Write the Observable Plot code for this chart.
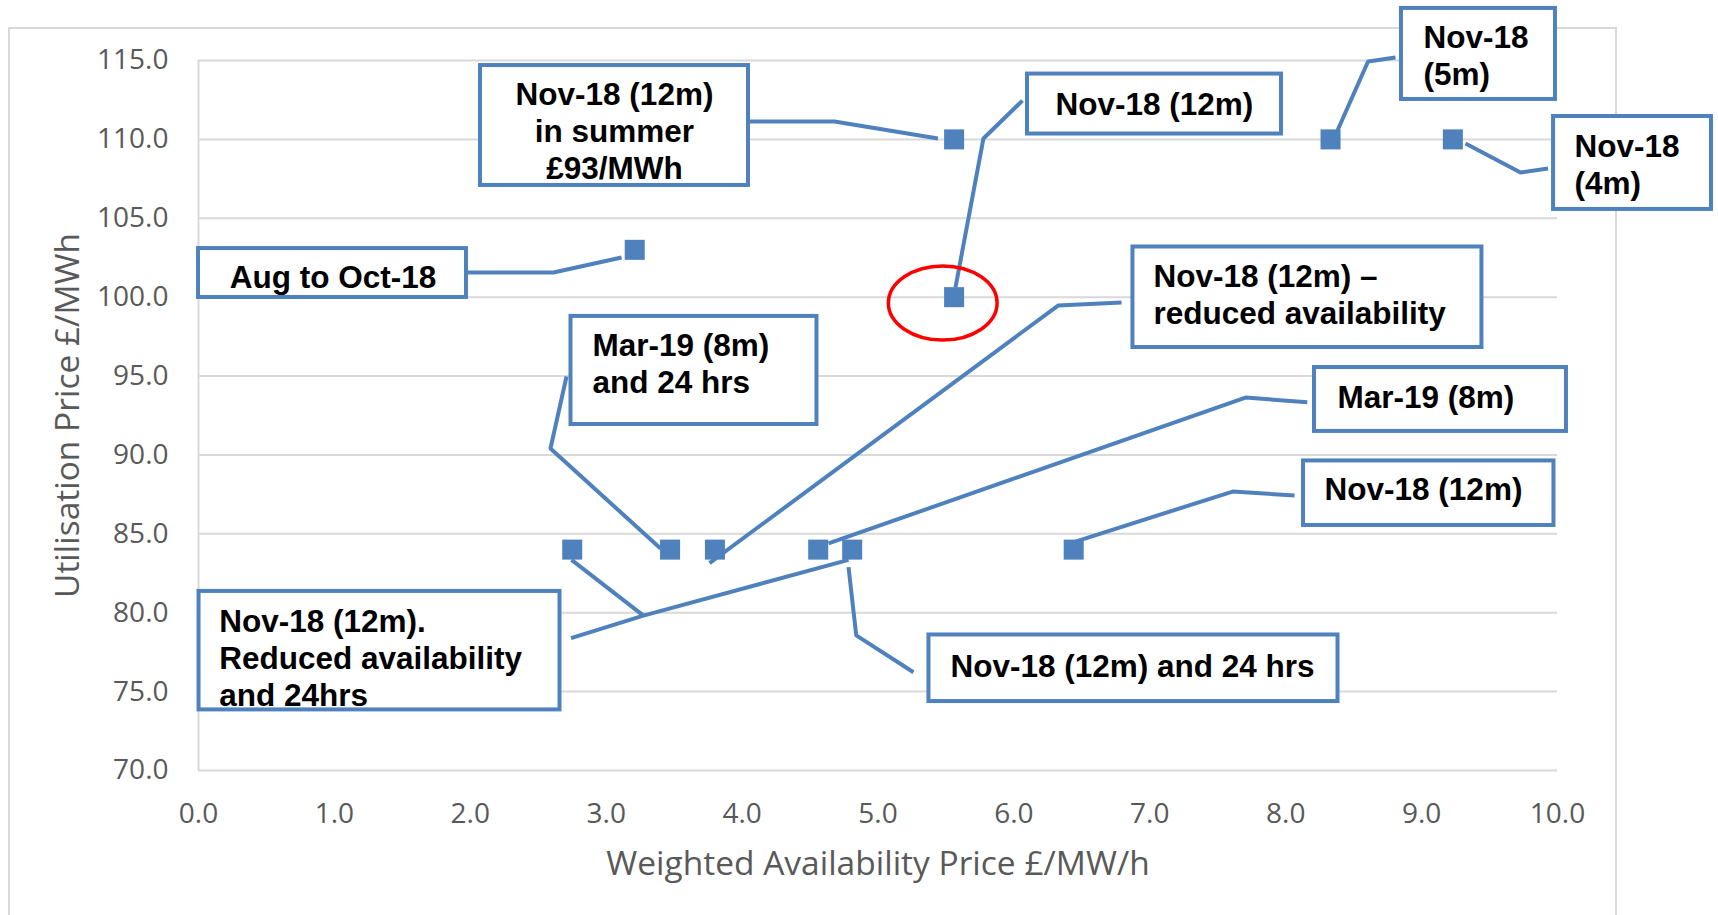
<!DOCTYPE html>
<html><head><meta charset="utf-8">
<script src="https://cdn.jsdelivr.net/npm/d3@7"></script>
<script src="https://cdn.jsdelivr.net/npm/@observablehq/plot@0.6"></script>
<style>
html,body{margin:0;padding:0;background:#fff;}
#chart{position:relative;width:1718px;height:915px;overflow:hidden;}
#frame{position:absolute;left:8px;top:27px;width:1609px;height:1000px;border:2px solid #d9d9d9;box-sizing:border-box;}
#chart svg{position:absolute;left:0;top:0;}
g[aria-label="callout"]{filter:drop-shadow(1px 1px 1px rgba(0,0,0,0.35));}
</style></head><body><div id="chart"><div id="frame"></div></div>
<script>
// Data points: Weighted Availability Price (£/MW/h) vs Utilisation Price (£/MWh)
const pointX = [5.56, 8.33, 9.23, 3.21, 5.56, 2.75, 3.47, 3.80, 4.56, 4.81, 6.44];
const pointY = [110, 110, 110, 103, 100, 84, 84, 84, 84, 84, 84];

const xTicks = [0, 1, 2, 3, 4, 5, 6, 7, 8, 9, 10];
const yTicks = [70, 75, 80, 85, 90, 95, 100, 105, 110, 115];

// Callout labels
const calloutText = [
  "Nov-18 (12m)\nin summer\n£93/MWh",
  "Nov-18 (12m)",
  "Nov-18\n(5m)",
  "Nov-18\n(4m)",
  "Aug to Oct-18",
  "Nov-18 (12m) –\nreduced availability",
  "Mar-19 (8m)\nand 24 hrs",
  "Mar-19 (8m)",
  "Nov-18 (12m)",
  "Nov-18 (12m) and 24 hrs",
  "Nov-18 (12m).\nReduced availability\nand 24hrs"
];
const calloutAlign = ["middle","start","start","start","middle","start","start","start","start","start","start"];
// callout boxes in data units: [x1, x2, yTop, yBottom]
const calloutBox = [
  [2.075, 4.047, 114.68, 107.08],
  [6.100, 7.969, 114.14, 110.34],
  [8.852, 9.985, 118.30, 112.53],
  [9.971, 11.133, 111.45, 105.56],
  [0.000, 1.972, 103.08, 99.98],
  [6.876, 9.444, 103.18, 96.81],
  [2.741, 4.551, 98.78, 91.93],
  [8.212, 10.066, 95.54, 91.49],
  [8.131, 9.974, 89.62, 85.53],
  [5.375, 8.385, 78.59, 74.37],
  [0.004, 2.660, 81.35, 73.84]
];
// text anchor (data units)
const calloutTextPos = [
  [3.061, 113.82], [6.306, 113.18], [9.014, 117.43], [10.125, 110.52],
  [0.990, 102.22], [7.027, 102.30], [2.899, 97.91], [8.381, 94.67],
  [8.286, 88.78], [5.533, 77.62], [0.152, 80.43]
];
// leader lines (data units)
const leaderLines = [
  [[4.047,111.13],[4.680,111.13],[5.441,110.06]],
  [[6.063,112.46],[5.776,110.06],[5.570,100.61]],
  [[8.808,115.19],[8.606,114.94],[8.381,110.56]],
  [[9.930,108.16],[9.728,107.90],[9.323,109.74]],
  [[1.972,101.56],[2.612,101.56],[3.113,102.51]],
  [[6.792,99.66],[6.325,99.47],[3.760,83.14]],
  [[2.708,94.97],[2.590,90.41],[3.400,84.07]],
  [[8.159,93.34],[7.704,93.64],[4.636,84.39]],
  [[8.065,87.43],[7.609,87.68],[6.453,84.51]],
  [[5.261,76.23],[4.840,78.56],[4.783,82.89]],
  [[2.741,78.39],[3.274,79.82],[4.783,83.35]],
  [[3.274,79.82],[2.745,83.35]]
];
// highlight ellipse: centre x, centre y, radius x, radius y (data units)
const highlight = [{x: 5.48, y: 99.6, rx: 0.40, ry: 2.35}];

const blue = "#4F81BD";
const points = pointX.map((x, i) => ({x, y: pointY[i]}));
const callouts = calloutText.map((t, i) => ({
  text: t, align: calloutAlign[i],
  x1: calloutBox[i][0], x2: calloutBox[i][1], y1: calloutBox[i][2], y2: calloutBox[i][3],
  tx: calloutTextPos[i][0], ty: calloutTextPos[i][1]
}));
const leaders = leaderLines.flatMap((pts, id) => pts.map(([x, y]) => ({id, x, y})));

function ellipses(data) {
  return (index, scales) => {
    const g = d3.create("svg:g").attr("aria-label", "highlight");
    for (const d of data) {
      const cx = scales.x(d.x), cy = scales.y(d.y);
      g.append("ellipse")
        .attr("cx", cx).attr("cy", cy)
        .attr("rx", Math.abs(scales.x(d.x + d.rx) - cx))
        .attr("ry", Math.abs(scales.y(d.y + d.ry) - cy))
        .attr("fill", "none").attr("stroke", "#FF0000").attr("stroke-width", 3.5);
    }
    return g.node();
  };
}

const textOpts = {fontSize: 31.5, fontWeight: "bold", fontFamily: "'Liberation Sans', Arial, sans-serif",
  fill: "black", lineAnchor: "top", lineHeight: 1.175, ariaLabel: "callout"};

const chart = Plot.plot({
  width: 1718, height: 915,
  marginLeft: 198, marginRight: 161, marginTop: 60, marginBottom: 145,
  style: {background: "transparent", fontFamily: "'Open Sans', sans-serif", fontSize: "28px", color: "#595959", overflow: "hidden"},
  x: {domain: [0, 10], ticks: xTicks, tickFormat: d3.format(".1f"), tickSize: 0, tickPadding: 33, label: null},
  y: {domain: [70, 115], ticks: yTicks, tickFormat: d3.format(".1f"), tickSize: 0, tickPadding: 30, label: null},
  marks: [
    Plot.ruleY(yTicks, {stroke: "#d9d9d9", strokeWidth: 2}),
    Plot.ruleX([0], {stroke: "#d9d9d9", strokeWidth: 2}),
    Plot.dot(points, {x: "x", y: "y", symbol: "square", r: 11.3, fill: blue, stroke: null}),
    Plot.line(leaders, {x: "x", y: "y", z: "id", stroke: blue, strokeWidth: 4, strokeLinecap: "butt", strokeLinejoin: "miter"}),
    Plot.rect(callouts, {x1: "x1", x2: "x2", y1: "y1", y2: "y2", fill: "white", stroke: blue, strokeWidth: 4}),
    Plot.text(callouts.filter(d => d.align === "middle"), {x: "tx", y: "ty", text: "text", textAnchor: "middle", ...textOpts}),
    Plot.text(callouts.filter(d => d.align === "start"), {x: "tx", y: "ty", text: "text", textAnchor: "start", ...textOpts}),
    ellipses(highlight),
    Plot.text(["Utilisation Price £/MWh"], {text: d => d, frameAnchor: "left", dx: -130, rotate: -90, textAnchor: "middle", lineAnchor: "middle", fontSize: 33.5, fill: "#595959"}),
    Plot.text(["Weighted Availability Price £/MW/h"], {text: d => d, frameAnchor: "bottom", dy: 94, textAnchor: "middle", lineAnchor: "middle", fontSize: 33.5, fill: "#595959"})
  ]
});
document.getElementById("chart").appendChild(chart);
</script></body></html>
